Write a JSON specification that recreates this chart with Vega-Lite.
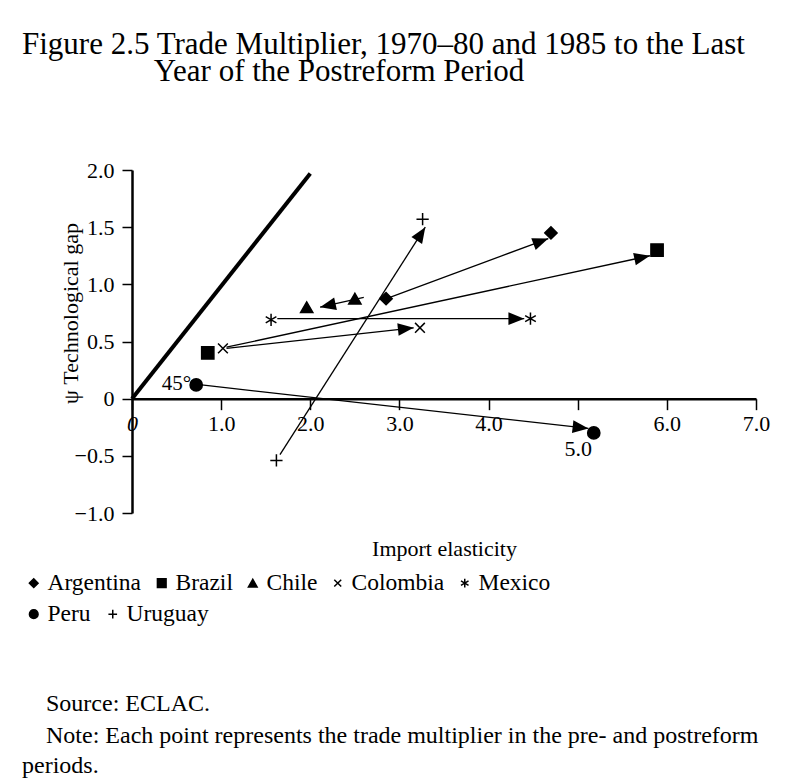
{
  "$schema": "https://vega.github.io/schema/vega-lite/v6.json",
  "padding": {"left": 22, "top": 29, "right": 10, "bottom": 10},
  "background": "white",
  "config": {
    "view": {"stroke": null},
    "font": "Liberation Serif",
    "axis": {"labelFont": "Liberation Serif", "titleFont": "Liberation Serif", "labelColor": "black", "titleColor": "black", "domainColor": "black", "tickColor": "black", "grid": false, "titleFontWeight": "normal"},
    "legend": {"labelFont": "Liberation Serif", "labelColor": "black"},
    "title": {"font": "Liberation Serif", "color": "black", "subtitleFont": "Liberation Serif", "subtitleColor": "black"}
  },
  "datasets": {
    "points": [
      {"country": "Argentina", "period": "pre", "x": 2.85, "y": 0.875},
      {"country": "Argentina", "period": "post", "x": 4.70, "y": 1.45},
      {"country": "Brazil", "period": "pre", "x": 0.85, "y": 0.40},
      {"country": "Brazil", "period": "post", "x": 5.89, "y": 1.30},
      {"country": "Chile", "period": "pre", "x": 2.50, "y": 0.875},
      {"country": "Chile", "period": "post", "x": 1.96, "y": 0.80},
      {"country": "Colombia", "period": "pre", "x": 1.02, "y": 0.44},
      {"country": "Colombia", "period": "post", "x": 3.23, "y": 0.62},
      {"country": "Mexico", "period": "pre", "x": 1.56, "y": 0.69},
      {"country": "Mexico", "period": "post", "x": 4.47, "y": 0.70},
      {"country": "Peru", "period": "pre", "x": 0.72, "y": 0.12},
      {"country": "Peru", "period": "post", "x": 5.18, "y": -0.30},
      {"country": "Uruguay", "period": "pre", "x": 1.62, "y": -0.54},
      {"country": "Uruguay", "period": "post", "x": 3.26, "y": 1.57}
    ],
    "arrows": [
      {"country": "Argentina", "x1": 2.87, "y1": 0.88, "x2": 4.67, "y2": 1.40},
      {"country": "Brazil", "x1": 1.06, "y1": 0.45, "x2": 5.81, "y2": 1.25},
      {"country": "Chile", "x1": 2.60, "y1": 0.885, "x2": 2.11, "y2": 0.80},
      {"country": "Colombia", "x1": 1.06, "y1": 0.44, "x2": 3.16, "y2": 0.62},
      {"country": "Mexico", "x1": 1.63, "y1": 0.70, "x2": 4.40, "y2": 0.70},
      {"country": "Peru", "x1": 0.78, "y1": 0.12, "x2": 5.12, "y2": -0.26},
      {"country": "Uruguay", "x1": 1.66, "y1": -0.49, "x2": 3.29, "y2": 1.50}
    ]
  },
  "title": {
    "text": "\u200b\u00a0\u00a0\u00a0\u00a0Source: ECLAC.",
    "subtitle": ["\u200b\u00a0\u00a0\u00a0\u00a0Note: Each point represents the trade multiplier in the pre- and postreform", "periods."],
    "orient": "bottom",
    "anchor": "start",
    "fontSize": 24,
    "fontWeight": "normal",
    "subtitleFontSize": 24,
    "subtitleLineHeight": 30,
    "subtitlePadding": 8,
    "offset": 66
  },
  "vconcat": [
    {
      "title": {
        "text": ["Figure 2.5 Trade Multiplier, 1970\u201380 and 1985 to the Last", "\u200b\u00a0\u00a0\u00a0\u00a0\u00a0\u00a0\u00a0\u00a0\u00a0\u00a0\u00a0\u00a0\u00a0\u00a0\u00a0\u00a0\u00a0Year of the Postreform Period"],
        "anchor": "start",
        "fontSize": 31,
        "fontWeight": "normal",
        "lineHeight": 27,
        "offset": 71
      },
      "width": 624,
      "height": 343,
      "resolve": {"scale": {"shape": "independent"}, "legend": {"shape": "independent"}},
      "layer": [
        {
          "data": {"values": [{"x1": 0, "y1": 0, "x2": 2.0, "y2": 1.97}]},
          "mark": {"type": "rule", "strokeWidth": 4, "color": "black", "strokeCap": "butt"},
          "encoding": {
            "x": {"field": "x1", "type": "quantitative", "scale": {"domain": [0, 7], "nice": false, "zero": false},
              "axis": {
                "orient": "bottom", "offset": -114.33, "values": [0, 1, 2, 3, 4, 5, 6, 7],
                "labelExpr": "datum.value == 0 ? '0' : format(datum.value, '.1f')",
                "labelFontSize": 22, "labelFlush": false,
                "labelPadding": {"condition": {"test": "datum.value == 5", "value": 29}, "value": 4},
                "labelFontStyle": {"condition": {"test": "datum.value == 0", "value": "italic"}, "value": "normal"},
                "tickSize": 11, "tickWidth": 1.5, "domainWidth": 2.5,
                "title": "Import elasticity", "titleFontSize": 22, "titleY": 150, "titleBaseline": "middle"
              }
            },
            "y": {"field": "y1", "type": "quantitative", "scale": {"domain": [-1, 2], "nice": false, "zero": false},
              "axis": {
                "values": [-1, -0.5, 0, 0.5, 1, 1.5, 2],
                "labelExpr": "datum.value == 0 ? '0' : format(datum.value, '.1f')",
                "labelFontSize": 22, "labelPadding": 8, "labelFlush": false,
                "tickSize": 10, "tickWidth": 1.5, "domainWidth": 2.5,
                "title": "\u03c8 Technological gap", "titleFontSize": 22, "titleX": -62, "titleY": 143, "titleBaseline": "middle", "titleAngle": -90
              }
            },
            "x2": {"field": "x2"},
            "y2": {"field": "y2"}
          }
        },
        {
          "data": {"name": "arrows"},
          "mark": {"type": "rule", "strokeWidth": 1.3, "color": "black"},
          "encoding": {
            "x": {"field": "x1", "type": "quantitative"},
            "y": {"field": "y1", "type": "quantitative"},
            "x2": {"field": "x2"},
            "y2": {"field": "y2"}
          }
        },
        {
          "data": {"name": "arrows"},
          "transform": [{"calculate": "atan2((datum.x2 - datum.x1) * 89.14, (datum.y2 - datum.y1) * 114.33) * 180 / PI", "as": "angle"}],
          "mark": {"type": "point", "shape": "M0,0L0.4,1L-0.4,1Z", "size": 1000, "filled": true, "color": "black", "opacity": 1, "strokeWidth": 0},
          "encoding": {
            "x": {"field": "x2", "type": "quantitative"},
            "y": {"field": "y2", "type": "quantitative"},
            "angle": {"field": "angle", "type": "quantitative", "scale": null}
          }
        },
        {
          "data": {"name": "points"},
          "transform": [{"filter": {"field": "country", "oneOf": ["Argentina", "Brazil", "Chile", "Colombia", "Mexico"]}}],
          "mark": {"type": "point", "filled": true, "color": "black", "stroke": "black", "strokeWidth": 1.5, "opacity": 1, "size": 150},
          "encoding": {
            "x": {"field": "x", "type": "quantitative"},
            "y": {"field": "y", "type": "quantitative"},
            "shape": {
              "field": "country", "type": "nominal",
              "scale": {
                "domain": ["Argentina", "Brazil", "Chile", "Colombia", "Mexico"],
                "range": ["diamond", "square", "triangle-up", "M-0.8,-0.8L0.8,0.8M0.8,-0.8L-0.8,0.8", "M0,-1L0,1M-0.87,-0.5L0.87,0.5M-0.87,0.5L0.87,-0.5"]
              },
              "legend": {
                "title": null, "orient": "none", "legendX": -110, "legendY": 401,
                "direction": "horizontal", "gridAlign": "each",
                "columnPadding": 8, "labelOffset": 2,
                "labelFontSize": 23.5, "symbolSize": 75, "padding": 0,
                "encode": {"symbols": {"update": {"fill": {"value": "black"}, "stroke": {"value": "black"}, "strokeWidth": {"value": 1.3}, "opacity": {"value": 1}}}}
              }
            }
          }
        },
        {
          "data": {"name": "points"},
          "transform": [{"filter": {"field": "country", "oneOf": ["Peru", "Uruguay"]}}],
          "mark": {"type": "point", "filled": true, "color": "black", "stroke": "black", "strokeWidth": 1.5, "opacity": 1, "size": 150},
          "encoding": {
            "x": {"field": "x", "type": "quantitative"},
            "y": {"field": "y", "type": "quantitative"},
            "shape": {
              "field": "country", "type": "nominal",
              "scale": {
                "domain": ["Peru", "Uruguay"],
                "range": ["circle", "M-1,0L1,0M0,-1L0,1"]
              },
              "legend": {
                "title": null, "orient": "none", "legendX": -110, "legendY": 432,
                "direction": "horizontal", "gridAlign": "each",
                "columnPadding": 10, "labelOffset": 2,
                "labelFontSize": 23.5, "symbolSize": 75, "padding": 0,
                "encode": {"symbols": {"update": {"fill": {"value": "black"}, "stroke": {"value": "black"}, "strokeWidth": {"value": 1.3}, "opacity": {"value": 1}}}}
              }
            }
          }
        },
        {
          "data": {"values": [{"label": "45\u00b0", "x": 0.5, "y": 0.13}]},
          "mark": {"type": "text", "fontSize": 21, "font": "Liberation Serif", "color": "black", "align": "center", "baseline": "middle"},
          "encoding": {
            "x": {"field": "x", "type": "quantitative"},
            "y": {"field": "y", "type": "quantitative"},
            "text": {"field": "label"}
          }
        }
      ]
    }
  ]
}
